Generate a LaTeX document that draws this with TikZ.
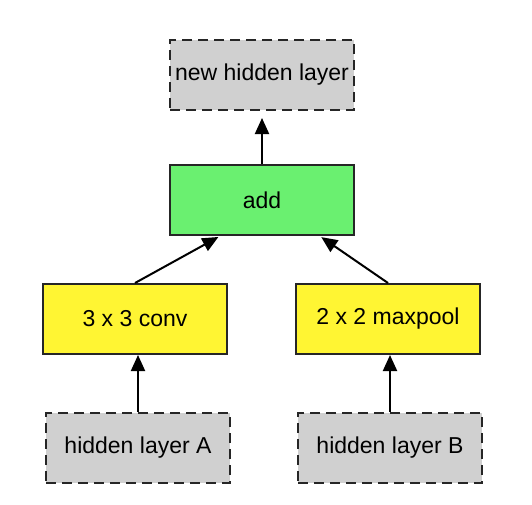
\documentclass[tikz,border=0pt]{standalone}
\usepackage{fontspec}
\setmainfont{Liberation Sans}
\usepackage{tikz}
\usetikzlibrary{positioning}
\usetikzlibrary{arrows.meta}
\usetikzlibrary{calc}
\definecolor{layergray}{RGB}{208,208,208}
\definecolor{addgreen}{RGB}{106,240,112}
\definecolor{opyellow}{RGB}{255,245,51}

\begin{document}
\begin{tikzpicture}[
            x = 1pt, y = -1pt,
            > = {Triangle[length=16pt,width=14pt]}, % arrow head style
            shorten > = 2pt, % don't touch arrow head to node
            line width = 2pt, % line style
            font = \fontsize{23}{27}\selectfont
        ]

        \tikzset{
            box/.style = {
                draw = black!85,
                minimum width = 184pt,
                minimum height = 70pt,
                inner sep = 0pt
            },
            hidden/.style = {box, fill = layergray, dash pattern = on 10pt off 6pt},
            merge/.style = {box, fill = addgreen},
            op/.style = {box, fill = opyellow}
        }

        \useasboundingbox (0,0) rectangle (532,504);

	% output
        \node[hidden] (New) at (262,75) {new hidden layer};
        \node[merge] (Add) [below=53pt of New] {add};

        % operations
        \node[op] (Conv) [below=47pt of Add, xshift=-127pt] {3 x 3 conv};
        \node[op] (Pool) [below=47pt of Add, xshift=126pt] {2 x 2 maxpool};

        % inputs
        \node[hidden] (A) [below=57pt of Conv, xshift=3pt] {hidden layer A};
        \node[hidden] (B) [below=57pt of Pool, xshift=2pt] {hidden layer B};

        \coordinate (AddL) at ($(Add.south)!0.45!(Add.south west)$);
        \coordinate (AddR) at ($(Add.south)!0.62!(Add.south east)$);

        \draw[->, shorten > = 7pt] (Add) -- (New);
        \draw[->] (Conv.north) -- (AddL);
        \draw[->] (Pool.north) -- (AddR);
        \draw[->, shorten > = 0pt] (A.north) -- (A.north |- Conv.south);
        \draw[->, shorten > = 0pt] (B.north) -- (B.north |- Pool.south);

  \end{tikzpicture}
\end{document}
